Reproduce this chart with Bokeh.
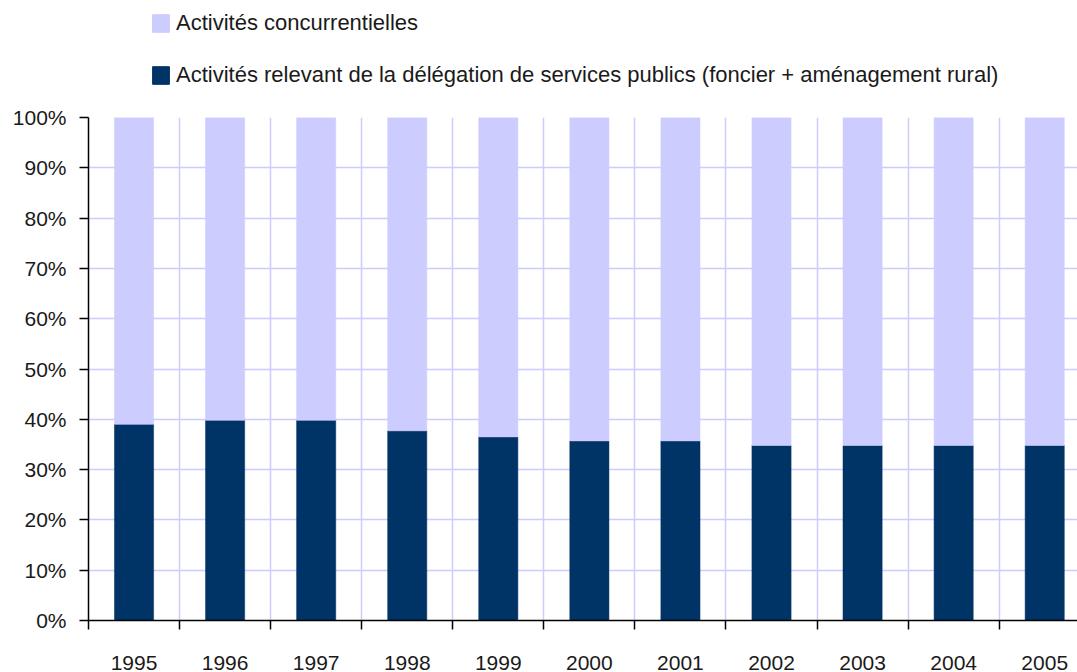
from bokeh.plotting import figure
from bokeh.layouts import column
from bokeh.models import (ColumnDataSource, Range1d, FixedTicker, PrintfTickFormatter,
                          Legend, LegendItem)
from bokeh.embed import file_html
from bokeh.resources import INLINE

years = [1995, 1996, 1997, 1998, 1999, 2000, 2001, 2002, 2003, 2004, 2005]
year_labels = [str(y) for y in years]
publics = [39.0, 39.8, 39.8, 37.7, 36.5, 35.7, 35.7, 34.8, 34.8, 34.8, 34.8]
concurrentielles = [61.0, 60.2, 60.2, 62.3, 63.5, 64.3, 64.3, 65.2, 65.2, 65.2, 65.2]
y_ticks = [0, 10, 20, 30, 40, 50, 60, 70, 80, 90, 100]
label_conc = "Activités concurrentielles"
label_pub = "Activités relevant de la délégation de services publics (foncier + aménagement rural)"

DARK = "#003366"
LIGHT = "#ccccff"
GRID = "#ccccff"
FONT = "Liberation Sans"
TXT = "#1a1a1a"

W = 1077
LEG_H = 100
MAIN_H = 572

source = ColumnDataSource(dict(year=years, pub=publics, conc=concurrentielles))

# ---------------- main chart ----------------
p = figure(width=W, height=MAIN_H, output_backend="svg", toolbar_location=None,
           x_range=Range1d(1994.5, 2005.36), y_range=Range1d(0, 100),
           min_border_left=88, min_border_right=0, min_border_top=17, min_border_bottom=50)
p.outline_line_color = None
p.background_fill_color = "white"
p.border_fill_color = "white"

rs = p.vbar_stack(["pub", "conc"], x="year", width=0.43, color=[DARK, LIGHT],
                  line_color=[DARK, LIGHT], line_width=0.5, source=source)

boundaries = [y - 0.5 for y in years] + [2005.5]

p.xgrid.ticker = FixedTicker(ticks=boundaries)
p.xgrid.grid_line_color = GRID
p.xgrid.grid_line_width = 1.5
p.ygrid.ticker = FixedTicker(ticks=y_ticks)
p.ygrid.grid_line_color = GRID
p.ygrid.grid_line_width = 1.5
p.xgrid.level = "underlay"
p.ygrid.level = "underlay"

xa = p.xaxis[0]
xa.ticker = FixedTicker(ticks=years, minor_ticks=boundaries)
xa.major_label_overrides = {y: s for y, s in zip(years, year_labels)}
xa.major_tick_out = 0
xa.major_tick_in = 0
xa.minor_tick_out = 9
xa.minor_tick_in = 0
xa.minor_tick_line_color = "black"
xa.minor_tick_line_width = 1.5
xa.axis_line_color = "black"
xa.axis_line_width = 1.5
xa.major_label_standoff = 26
xa.major_label_text_font = FONT
xa.major_label_text_font_size = "21px"
xa.major_label_text_color = TXT

ya = p.yaxis[0]
ya.ticker = FixedTicker(ticks=y_ticks)
ya.formatter = PrintfTickFormatter(format="%d%%")
ya.major_tick_out = 9
ya.major_tick_in = 0
ya.major_tick_line_color = "black"
ya.major_tick_line_width = 1.5
ya.minor_tick_out = 0
ya.minor_tick_in = 0
ya.axis_line_color = "black"
ya.axis_line_width = 1.5
ya.major_label_standoff = 13
ya.major_label_text_font = FONT
ya.major_label_text_font_size = "21px"
ya.major_label_text_color = TXT

# ---------------- legend strip ----------------
lg = figure(width=W, height=LEG_H, output_backend="svg", toolbar_location=None,
            x_range=Range1d(0, 1), y_range=Range1d(0, 1),
            min_border_left=0, min_border_right=0, min_border_top=0, min_border_bottom=0)
lg.axis.visible = False
lg.grid.visible = False
lg.outline_line_color = None
lg.background_fill_color = "white"
lg.border_fill_color = "white"

# same data, drawn far outside this strip's visible range; only used for the legend swatches
lrs = lg.vbar_stack(["pub", "conc"], x="year", width=0.43, color=[DARK, LIGHT],
                    line_color=[DARK, LIGHT], source=source)

legend = Legend(items=[LegendItem(label=label_conc, renderers=[lrs[1]]),
                       LegendItem(label=label_pub, renderers=[lrs[0]])],
                location=(62, 12), orientation="vertical",
                padding=0, margin=0, spacing=26,
                glyph_width=21, glyph_height=22, label_standoff=5, label_height=26,
                border_line_color=None, background_fill_alpha=0,
                label_text_font=FONT, label_text_font_size="22px",
                label_text_color=TXT)
lg.add_layout(legend, "center")

layout = column(lg, p, spacing=0)

open("out.html", "w").write(file_html(layout, INLINE))
